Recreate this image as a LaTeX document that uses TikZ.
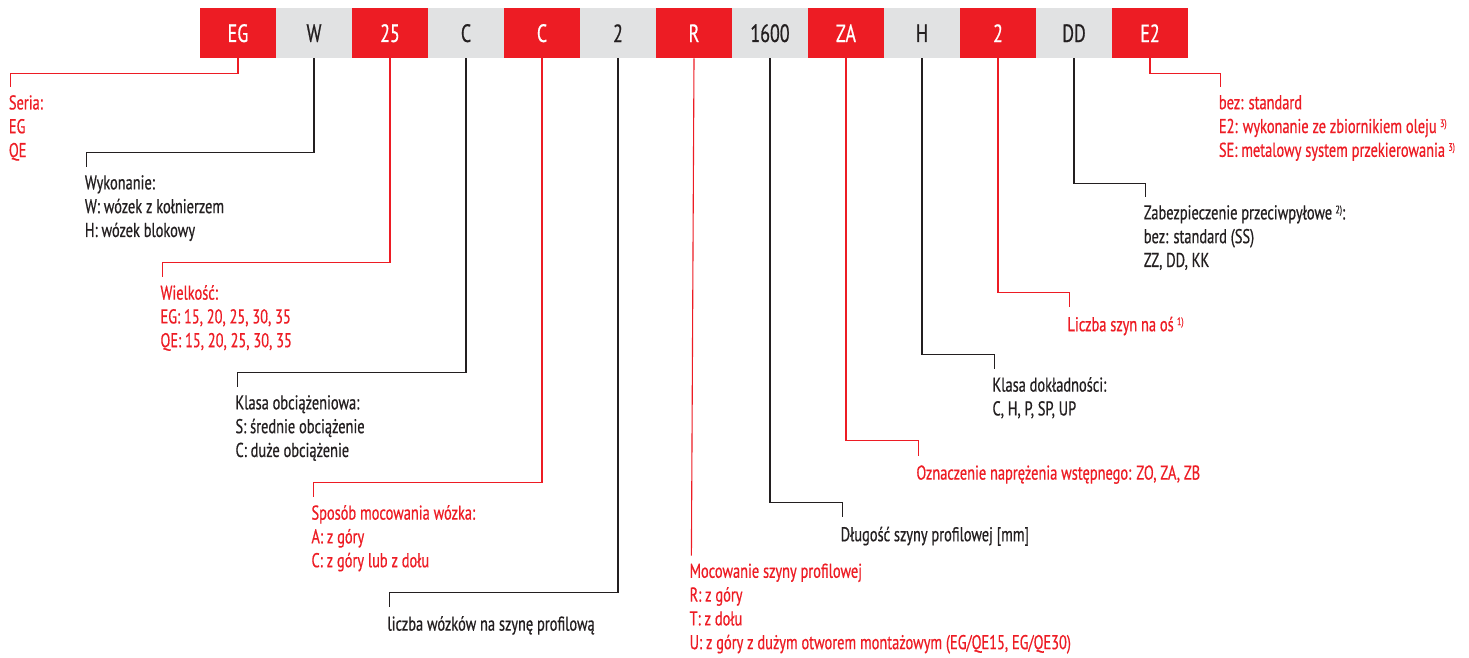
\documentclass[tikz,border=0pt]{standalone}
\usepackage{fontspec}
\setmainfont{PT Sans}[FakeStretch=0.72, FakeBold=0.6]
\usepackage{tikz}
\usetikzlibrary{positioning}
\usepackage{xcolor}
\definecolor{codered}{HTML}{ED1C24}
\definecolor{codegrey}{HTML}{E1E2E3}
\definecolor{codeblack}{HTML}{231F20}
\newcommand{\smallsup}[1]{\,\raisebox{6pt}{\fontsize{11}{11}\selectfont #1}}
\tikzstyle{redcell} = [
    rectangle, minimum width=75.6pt, minimum height=50pt, inner sep=0pt,
    fill=codered, text=white, font=\fontsize{25}{25}\selectfont
]
\tikzstyle{greycell} = [
    rectangle, minimum width=75.6pt, minimum height=50pt, inner sep=0pt,
    fill=codegrey, text=codeblack, font=\fontsize{25}{25}\selectfont
]
\tikzstyle{redinfo} = [
    anchor=north west, inner sep=0pt, align=left, text=codered,
    font=\fontsize{20}{23.8}\selectfont, execute at begin node=\rule{0pt}{16pt}
]
\tikzstyle{blackinfo} = [
    anchor=north west, inner sep=0pt, align=left, text=codeblack,
    font=\fontsize{20}{23.8}\selectfont, execute at begin node=\rule{0pt}{16pt}
]
\tikzstyle{redlink} = [draw=codered, line width=1.1pt]
\tikzstyle{blacklink} = [draw=codeblack, line width=1.1pt]

\begin{document}
\begin{tikzpicture}[x=1pt, y=-1pt, node distance=0pt]
    \useasboundingbox (0,0) rectangle (1469,657);
    % Code cells
    \node[redcell, anchor=north west] (eg) at (200,8) {EG};
    \node[greycell, right=of eg] (w) {W};
    \node[redcell, right=of w] (size) {25};
    \node[greycell, right=of size] (load) {C};
    \node[redcell, right=of load] (mount) {C};
    \node[greycell, right=of mount] (blocks) {2};
    \node[redcell, right=of blocks] (r) {R};
    \node[greycell, right=of r] (len) {1600};
    \node[redcell, right=of len] (za) {ZA};
    \node[greycell, right=of za] (h) {H};
    \node[redcell, right=of h] (rails) {2};
    \node[greycell, right=of rails] (dd) {DD};
    \node[redcell, right=of dd] (e2) {E2};
    % Descriptions
    \node[redinfo] (seria) at (8.7,95) {Seria:\\EG\\QE};
    \node[blackinfo] (wyk) at (84.7,175) {Wykonanie:\\W: wózek z kołnierzem\\H: wózek blokowy};
    \node[redinfo] (wielk) at (160.3,285) {Wielkość:\\EG: 15, 20, 25, 30, 35\\QE: 15, 20, 25, 30, 35};
    \node[blackinfo] (klasa) at (235.3,395) {Klasa obciążeniowa:\\S: średnie obciążenie\\C: duże obciążenie};
    \node[redinfo] (sposob) at (311.3,505) {Sposób mocowania wózka:\\A: z góry\\C: z góry lub z dołu};
    \node[blackinfo] (liczbaw) at (387.3,614.4) {liczba wózków na szynę profilową};
    \node[redinfo] (mocow) at (689.4,563.4) {Mocowanie szyny profilowej\\R: z góry\\T: z dołu\\U: z góry z dużym otworem montażowym (EG/QE15, EG/QE30)};
    \node[blackinfo] (dlug) at (840.5,525) {Długość szyny profilowej [mm]};
    \node[redinfo] (oznacz) at (916.2,463.4) {Oznaczenie naprężenia wstępnego: ZO, ZA, ZB};
    \node[blackinfo] (dokl) at (992.3,377) {Klasa dokładności:\\C, H, P, SP, UP};
    \node[redinfo] (liczbas) at (1067.3,315) {Liczba szyn na oś\smallsup{1)}};
    \node[blackinfo] (zabez) at (1143.6,205) {Zabezpieczenie przeciwpyłowe\smallsup{2)}:\\bez: standard (SS)\\ZZ, DD, KK};
    \node[redinfo] (opcja) at (1218.7,95) {bez: standard\\E2: wykonanie ze zbiornikiem oleju\smallsup{3)}\\SE: metalowy system przekierowania\smallsup{3)}};
    % Leader lines
    \draw[redlink] (eg.south) -- ++(0,15.3) -| ([shift={(2,-7.7)}]seria.north west);
    \draw[blacklink] (w.south) -- ++(0,94) -| ([shift={(2,-7.7)}]wyk.north west);
    \draw[redlink] (size.south) -- ++(0,204.3) -| ([shift={(2,-7.7)}]wielk.north west);
    \draw[blacklink] (load.south) -- ++(0,314.3) -| ([shift={(2,-7.7)}]klasa.north west);
    \draw[redlink] (mount.south) -- ++(0,424.3) -| ([shift={(2,-7.7)}]sposob.north west);
    \draw[blacklink] (blocks.south) -- ++(0,534.3) -| ([shift={(2,-7.7)}]liczbaw.north west);
    \draw[redlink] (r.south) -- ([shift={(2,-7.7)}]mocow.north west);
    \draw[blacklink] (len.south) -- ++(0,444.3) -| ([shift={(2,-7.7)}]dlug.north west);
    \draw[redlink] (za.south) -- ++(0,382) -| ([shift={(2,-7.7)}]oznacz.north west);
    \draw[blacklink] (h.south) -- ++(0,296) -| ([shift={(2,-7.7)}]dokl.north west);
    \draw[redlink] (rails.south) -- ++(0,234.3) -| ([shift={(2,-7.7)}]liczbas.north west);
    \draw[blacklink] (dd.south) -- ++(0,125.3) -| ([shift={(2,-7.7)}]zabez.north west);
    \draw[redlink] (e2.south) -- ++(0,15.3) -| ([shift={(2,-7.7)}]opcja.north west);
\end{tikzpicture}
\end{document}
